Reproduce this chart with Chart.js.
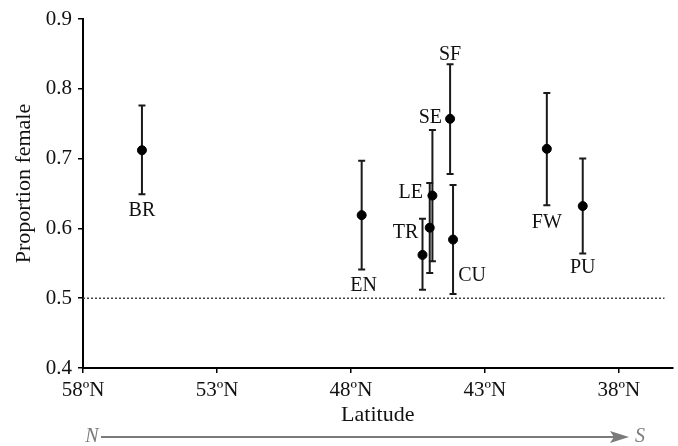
<!DOCTYPE html>
<html>
<head>
<meta charset="utf-8">
<script src="https://cdn.jsdelivr.net/npm/chart.js@4/dist/chart.umd.min.js"></script>
<style>
  body { margin: 0; background: #fff; }
</style>
</head>
<body>
<canvas id="latChart" width="678" height="446"></canvas>
<script>
// site codes and values
const sites = ['BR', 'EN', 'TR', 'LE', 'SE', 'SF', 'CU', 'FW', 'PU'];
const latitude = [55.8, 47.6, 45.33, 45.06, 44.96, 44.3, 44.19, 40.69, 39.35];
const propFemale = [0.712, 0.619, 0.562, 0.601, 0.647, 0.757, 0.584, 0.714, 0.632];
const ciLower = [0.649, 0.541, 0.512, 0.536, 0.553, 0.678, 0.506, 0.633, 0.564];
const ciUpper = [0.776, 0.697, 0.614, 0.665, 0.741, 0.835, 0.662, 0.794, 0.700];

const latTicks = [58, 53, 48, 43, 38];
const latTickLabels = ['58ºN', '53ºN', '48ºN', '43ºN', '38ºN'];
const yTicks = [0.4, 0.5, 0.6, 0.7, 0.8, 0.9];

// where each site label sits relative to its point (px)
const labelOffsets = [[0, 61], [2, 71], [-17, -22], [-19, -35], [-2, -78], [0, -64], [19, 36], [0, 74], [0, 62]];

const serif = "'Liberation Serif', 'DejaVu Serif', serif";

const points = sites.map((s, i) => ({ x: latitude[i], y: propFemale[i] }));

const errorBars = {
  id: 'errorBars',
  beforeDatasetsDraw(chart) {
    const { ctx, scales: { x, y } } = chart;
    ctx.save();
    ctx.strokeStyle = '#1a1a1a';
    ctx.lineWidth = 2;
    sites.forEach((s, i) => {
      const px = x.getPixelForValue(latitude[i]);
      const top = y.getPixelForValue(ciUpper[i]);
      const bot = y.getPixelForValue(ciLower[i]);
      ctx.beginPath();
      ctx.moveTo(px, top);
      ctx.lineTo(px, bot);
      ctx.moveTo(px - 3.5, top);
      ctx.lineTo(px + 3.5, top);
      ctx.moveTo(px - 3.5, bot);
      ctx.lineTo(px + 3.5, bot);
      ctx.stroke();
    });
    ctx.restore();
  },
  afterDatasetsDraw(chart) {
    const { ctx, scales: { x, y } } = chart;
    ctx.save();
    ctx.fillStyle = '#111';
    ctx.font = '20px ' + serif;
    ctx.textAlign = 'center';
    ctx.textBaseline = 'middle';
    sites.forEach((s, i) => {
      const px = x.getPixelForValue(latitude[i]);
      const py = y.getPixelForValue(propFemale[i]);
      ctx.fillText(s, px + labelOffsets[i][0], py + labelOffsets[i][1]);
    });
    ctx.restore();
  },
  afterDraw(chart) {
    const { ctx } = chart;
    ctx.save();
    // y axis title, sits a little above the middle of the axis
    ctx.fillStyle = '#111';
    ctx.font = '22px ' + serif;
    ctx.textAlign = 'center';
    ctx.textBaseline = 'middle';
    ctx.translate(24, 183.5);
    ctx.rotate(-Math.PI / 2);
    ctx.fillText('Proportion female', 0, 0);
    ctx.restore();

    // N -> S arrow under the axis title
    const ay = 437;
    ctx.save();
    ctx.strokeStyle = '#7a7a7a';
    ctx.fillStyle = '#7a7a7a';
    ctx.lineWidth = 2;
    ctx.beginPath();
    ctx.moveTo(101, ay);
    ctx.lineTo(614, ay);
    ctx.stroke();
    ctx.beginPath();
    ctx.moveTo(629, ay);
    ctx.lineTo(610, ay - 6);
    ctx.lineTo(614, ay);
    ctx.lineTo(610, ay + 6);
    ctx.closePath();
    ctx.fill();
    ctx.font = 'italic 20px ' + serif;
    ctx.textBaseline = 'middle';
    ctx.textAlign = 'center';
    ctx.fillText('N', 92, ay);
    ctx.fillText('S', 640, ay);
    ctx.restore();
  }
};

const ctx = document.getElementById('latChart').getContext('2d');

new Chart(ctx, {
  type: 'scatter',
  data: {
    datasets: [
      {
        label: 'parity',
        type: 'line',
        data: [{ x: 58, y: 0.5 }, { x: 36.3, y: 0.5 }],
        borderColor: '#444',
        borderWidth: 1.5,
        borderDash: [2, 2],
        pointRadius: 0
      },
      {
        label: 'Proportion female',
        data: points,
        backgroundColor: '#000',
        borderColor: '#000',
        pointRadius: 4.5,
        pointHoverRadius: 4.5
      }
    ]
  },
  plugins: [errorBars],
  options: {
    responsive: false,
    animation: false,
    layout: { padding: { top: 19, right: 2, bottom: 18, left: 0 } },
    plugins: { legend: { display: false }, tooltip: { enabled: false } },
    scales: {
      x: {
        type: 'linear',
        min: 36,
        max: 58,
        reverse: true,
        afterBuildTicks: (scale) => { scale.ticks = latTicks.map(v => ({ value: v })); },
        afterFit: (scale) => { scale.height = 60; },
        ticks: {
          color: '#111',
          font: { family: serif, size: 21 },
          padding: 5,
          maxRotation: 0,
          callback: (v) => latTickLabels[latTicks.indexOf(v)]
        },
        grid: { display: true, drawOnChartArea: false, tickLength: 5, color: '#000', lineWidth: 1.5 },
        border: { display: true, color: '#000', width: 2 },
        title: {
          display: true,
          text: 'Latitude',
          color: '#111',
          font: { family: serif, size: 22 },
          padding: { top: 0, bottom: 0 }
        }
      },
      y: {
        min: 0.4,
        max: 0.9,
        afterBuildTicks: (scale) => { scale.ticks = yTicks.map(v => ({ value: v })); },
        afterFit: (scale) => { scale.width = 83; },
        ticks: {
          color: '#111',
          font: { family: serif, size: 21 },
          padding: 6,
          callback: (v) => v.toFixed(1)
        },
        grid: { display: true, drawOnChartArea: false, tickLength: 5, color: '#000', lineWidth: 1.5 },
        border: { display: true, color: '#000', width: 2 }
      }
    }
  }
});
</script>
</body>
</html>
